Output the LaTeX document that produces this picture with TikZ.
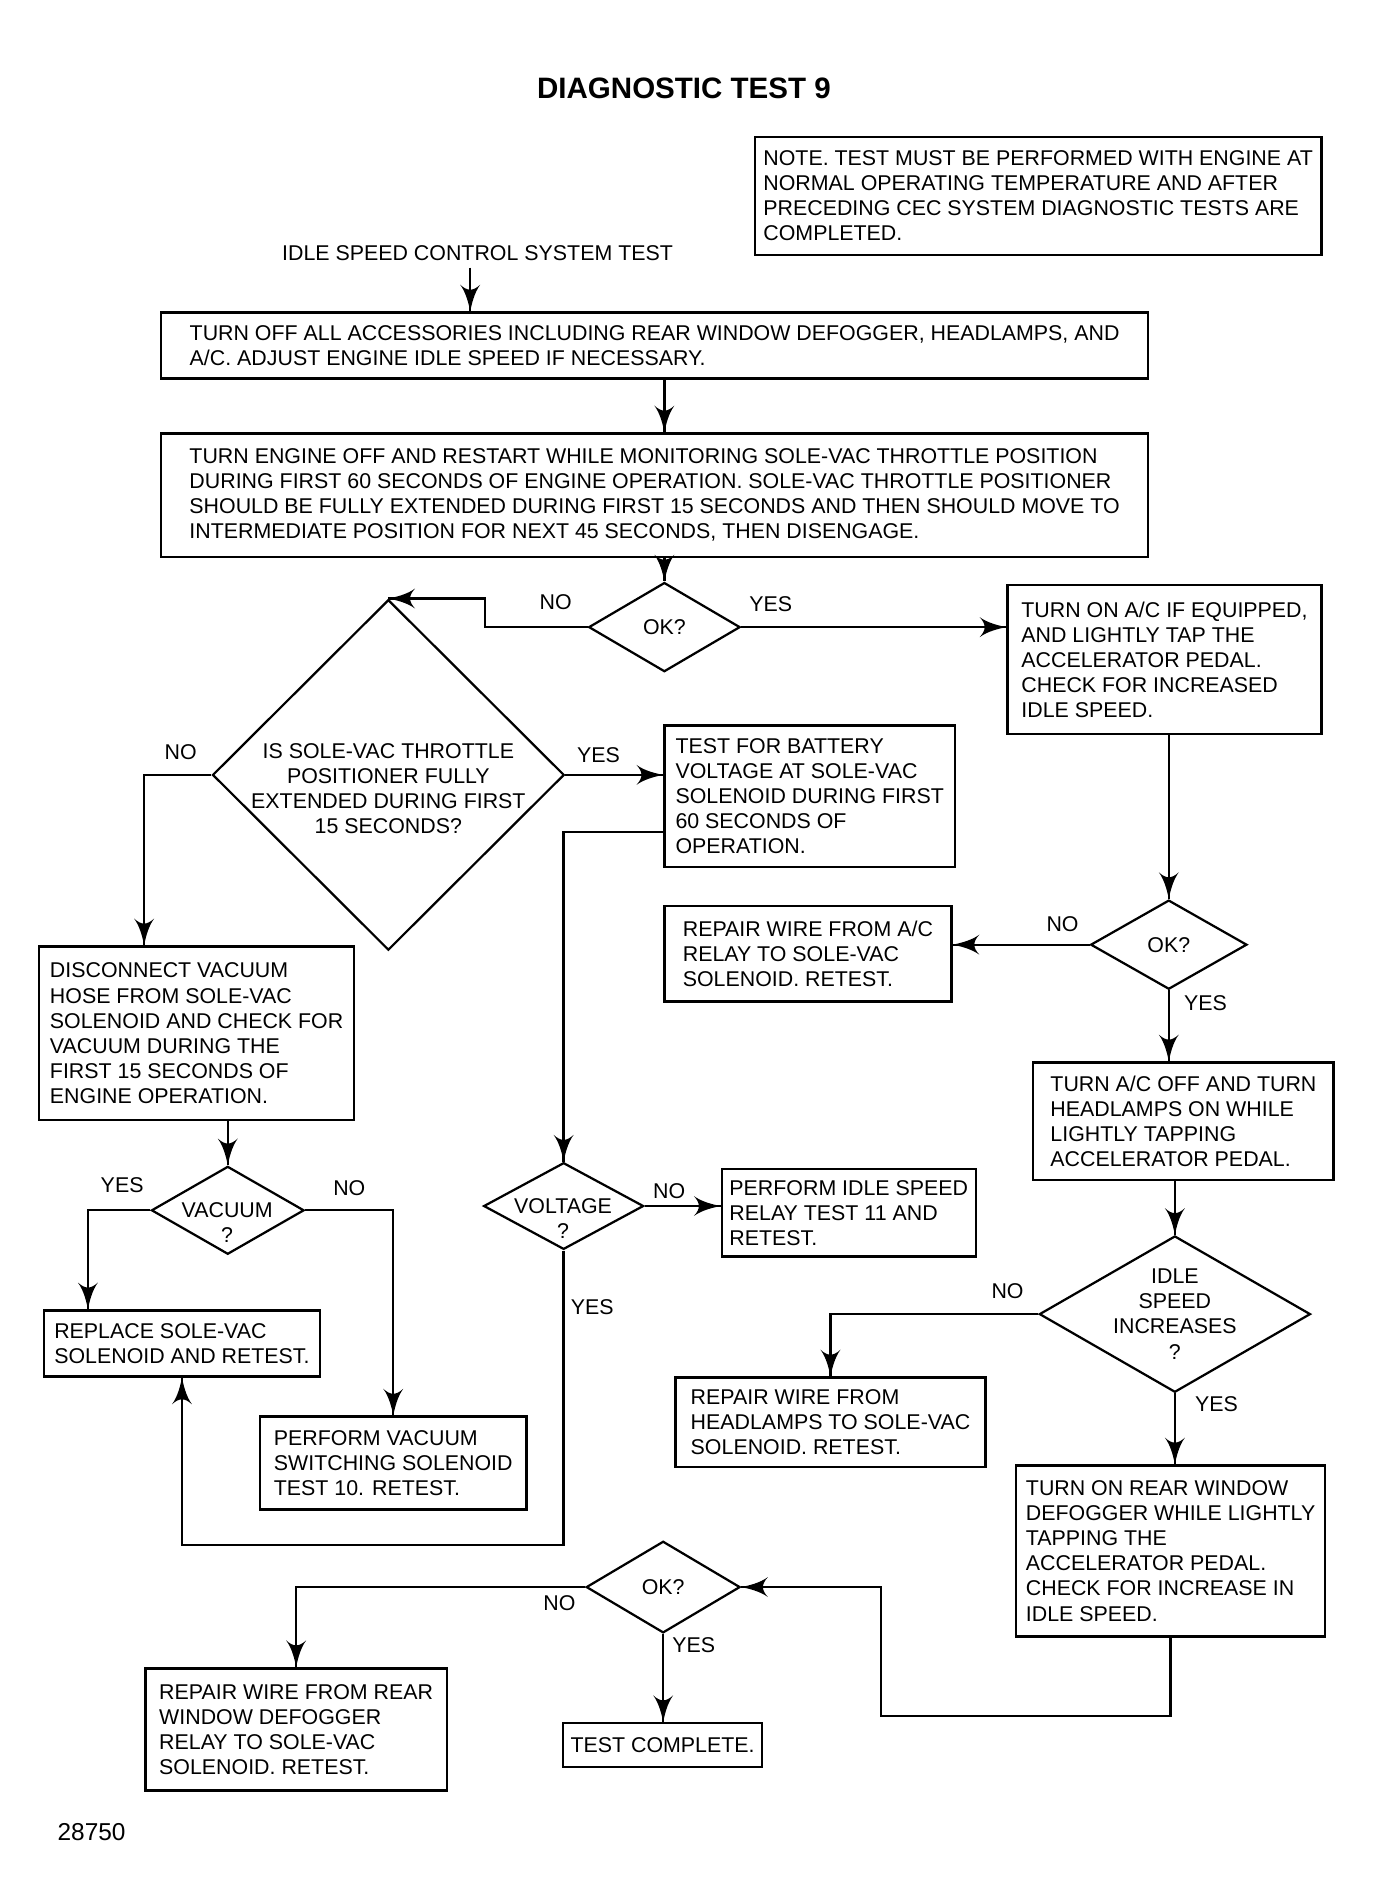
\documentclass[tikz,border=0pt]{standalone}
\usepackage{fontspec}
\setmainfont{Liberation Sans}
\usetikzlibrary{arrows}
\usetikzlibrary{decorations.markings}
\usetikzlibrary{shapes.geometric}
\usetikzlibrary{calc}
\tikzset{->/.style = {decoration={markings,
                                  mark=at position 1 with {\arrow[scale=2.1]{latex'}}},
                      postaction={decorate}}}
\tikzset{box/.style = {draw, line width=1.2pt, align=left, inner sep=0pt}}
\tikzset{decision/.style = {draw, diamond, aspect=1.7, line width=1.1pt,
                            align=center, inner sep=-3pt}}
\tikzset{link/.style = {line width=1.15pt}}

\begin{document}
\begin{tikzpicture}[x=0.6pt, y=-0.6pt, font=\fontsize{10.5}{12.3}\selectfont]
      \useasboundingbox (0, 0) rectangle (1134, 1550);
      \node [font=\fontsize{14.5}{16}\selectfont\bfseries] (title) at (560, 72) {DIAGNOSTIC TEST 9};
      \node [box, minimum width=278.4pt, minimum height=58.2pt] (notebox) at (850, 160.5)
        {NOTE. TEST MUST BE PERFORMED WITH ENGINE AT\\NORMAL OPERATING TEMPERATURE AND AFTER\\
         PRECEDING CEC SYSTEM DIAGNOSTIC TESTS ARE\\COMPLETED.};
      \node (testname) at (391, 207) {IDLE SPEED CONTROL SYSTEM TEST};
      \node [box, minimum width=484.8pt, minimum height=32.4pt] (offbox) at (536, 283)
        {TURN OFF ALL ACCESSORIES INCLUDING REAR WINDOW DEFOGGER, HEADLAMPS, AND\\
         A/C. ADJUST ENGINE IDLE SPEED IF NECESSARY.};
      \node [box, minimum width=484.8pt, minimum height=60.6pt] (restartbox) at (536, 405.5)
        {TURN ENGINE OFF AND RESTART WHILE MONITORING SOLE-VAC THROTTLE POSITION\\
         DURING FIRST 60 SECONDS OF ENGINE OPERATION. SOLE-VAC THROTTLE POSITIONER\\
         SHOULD BE FULLY EXTENDED DURING FIRST 15 SECONDS AND THEN SHOULD MOVE TO\\
         INTERMEDIATE POSITION FOR NEXT 45 SECONDS, THEN DISENGAGE.};
      \node [decision, minimum width=74.4pt, minimum height=43.8pt] (okone) at (544, 513.5) {OK?};
      \node [decision, aspect=1, minimum width=172.8pt, minimum height=172.2pt] (bigq) at (318, 634.5) {};
      \node [align=center] (bigqtext) at (318, 646)
        {IS SOLE-VAC THROTTLE\\POSITIONER FULLY\\EXTENDED DURING FIRST\\15 SECONDS?};
      \node [box, minimum width=154.2pt, minimum height=73.2pt] (acbox) at (953.5, 540)
        {TURN ON A/C IF EQUIPPED,\\AND LIGHTLY TAP THE\\ACCELERATOR PEDAL.\\
         CHECK FOR INCREASED\\IDLE SPEED.};
      \node [box, minimum width=142.8pt, minimum height=69.6pt] (batbox) at (663, 652)
        {TEST FOR BATTERY\\VOLTAGE AT SOLE-VAC\\SOLENOID DURING FIRST\\60 SECONDS OF\\OPERATION.};
      \node [decision, minimum width=76.8pt, minimum height=43.8pt] (okac) at (957, 773.5) {OK?};
      \node [box, minimum width=141pt, minimum height=46.8pt] (repacbox) at (661.5, 781)
        {REPAIR WIRE FROM A/C\\RELAY TO SOLE-VAC\\SOLENOID. RETEST.};
      \node [box, minimum width=154.8pt, minimum height=85.2pt] (vacbox) at (161, 846)
        {DISCONNECT VACUUM\\HOSE FROM SOLE-VAC\\SOLENOID AND CHECK FOR\\VACUUM DURING THE\\
         FIRST 15 SECONDS OF\\ENGINE OPERATION.};
      \node [box, minimum width=147.6pt, minimum height=57.6pt] (acoffbox) at (969, 918)
        {TURN A/C OFF AND TURN\\HEADLAMPS ON WHILE\\LIGHTLY TAPPING\\ACCELERATOR PEDAL.};
      \node [decision, minimum width=75pt, minimum height=43.2pt] (vacq) at (186.5, 991) {};
      \node [align=center] (vacqtext) at (186, 1001) {VACUUM\\?};
      \node [decision, minimum width=78.6pt, minimum height=42.6pt] (voltq) at (461.5, 987.5) {};
      \node [align=center] (voltqtext) at (461, 997.5) {VOLTAGE\\?};
      \node [box, minimum width=124.8pt, minimum height=43.2pt] (idlerelbox) at (695, 993)
        {PERFORM IDLE SPEED\\RELAY TEST 11 AND\\RETEST.};
      \node [decision, minimum width=133.2pt, minimum height=76.8pt] (idleq) at (962, 1076)
        {IDLE\\SPEED\\INCREASES\\?};
      \node [box, minimum width=135.6pt, minimum height=32.4pt] (replbox) at (149, 1100)
        {REPLACE SOLE-VAC\\SOLENOID AND RETEST.};
      \node [box, minimum width=152.4pt, minimum height=43.8pt] (headbox) at (680, 1164.5)
        {REPAIR WIRE FROM\\HEADLAMPS TO SOLE-VAC\\SOLENOID. RETEST.};
      \node [box, minimum width=130.8pt, minimum height=45.6pt] (vsolbox) at (322, 1198)
        {PERFORM VACUUM\\SWITCHING SOLENOID\\TEST 10. RETEST.};
      \node [box, minimum width=151.8pt, minimum height=84pt] (rearbox) at (958.5, 1270)
        {TURN ON REAR WINDOW\\DEFOGGER WHILE LIGHTLY\\TAPPING THE\\ACCELERATOR PEDAL.\\
         CHECK FOR INCREASE IN\\IDLE SPEED.};
      \node [decision, minimum width=75.6pt, minimum height=45pt] (okrear) at (543, 1299.5) {OK?};
      \node [box, minimum width=148.2pt, minimum height=60pt] (reprearbox) at (242.5, 1416)
        {REPAIR WIRE FROM REAR\\WINDOW DEFOGGER\\RELAY TO SOLE-VAC\\SOLENOID. RETEST.};
      \node [box, minimum width=97.8pt, minimum height=21.6pt] (donebox) at (542.5, 1429) {TEST COMPLETE.};
      \node [font=\fontsize{12}{14}\selectfont] (fignum) at (75, 1500) {28750};
      % branch labels
      \node (noone) at (455, 493) {NO};
      \node (yesone) at (631, 495) {YES};
      \node (nobig) at (148, 616) {NO};
      \node (yesbig) at (490, 618) {YES};
      \node (noac) at (870, 757) {NO};
      \node (yesac) at (987, 821) {YES};
      \node (novac) at (286, 973) {NO};
      \node (yesvac) at (100, 970) {YES};
      \node (novolt) at (548, 975) {NO};
      \node (yesvolt) at (485, 1070) {YES};
      \node (noidle) at (825, 1057) {NO};
      \node (yesidle) at (996, 1150) {YES};
      \node (norear) at (458, 1313) {NO};
      \node (yesrear) at (568, 1347) {YES};
      % connectors
      \draw [->, link] ($(testname.south) + (-6, 0)$) -- ($(testname.south |- offbox.north) + (-6, 0)$);
      \draw [->, link] (okone |- offbox.south) -- (okone |- restartbox.north);
      \draw [->, link] (okone |- restartbox.south) -- (okone.north);
      \draw [->, link] (okone.west) -- ++(-84, 0) |- (bigq.north);
      \draw [->, link] (okone.east) -- (okone.east -| acbox.west);
      \draw [->, link] (bigq.west) -| ($(vacbox.north) + (-43, 0)$);
      \draw [->, link] (bigq.east) -- (bigq.east -| batbox.west);
      \draw [->, link] ($(batbox.west) + (0, 29)$) -| (voltq.north);
      \draw [->, link] (okac |- acbox.south) -- (okac.north);
      \draw [->, link] (okac.west) -- (okac.west -| repacbox.east);
      \draw [->, link] (okac.south) -- (okac.south |- acoffbox.north);
      \draw [->, link] (idleq |- acoffbox.south) -- (idleq.north);
      \draw [->, link] (idleq.west) -| (headbox.north);
      \draw [->, link] (idleq.south) -- (idleq.south |- rearbox.north);
      \draw [->, link] (rearbox.south) -- ++(0, 64) -- ++(-237, 0) |- (okrear.east);
      \draw [->, link] (okrear.west) -| (reprearbox.north);
      \draw [->, link] (okrear.south) -- (okrear.south |- donebox.north);
      \draw [->, link] (vacq |- vacbox.south) -- (vacq.north);
      \draw [->, link] (vacq.west) -| ($(replbox.north) + (-77, 0)$);
      \draw [->, link] (vacq.east) -| (vsolbox.north);
      \draw [->, link] (voltq.east) -- (voltq.east -| idlerelbox.west);
      \draw [->, link] (voltq.south) -- ++(0, 241) -| (replbox.south);
    \end{tikzpicture}
\end{document}
